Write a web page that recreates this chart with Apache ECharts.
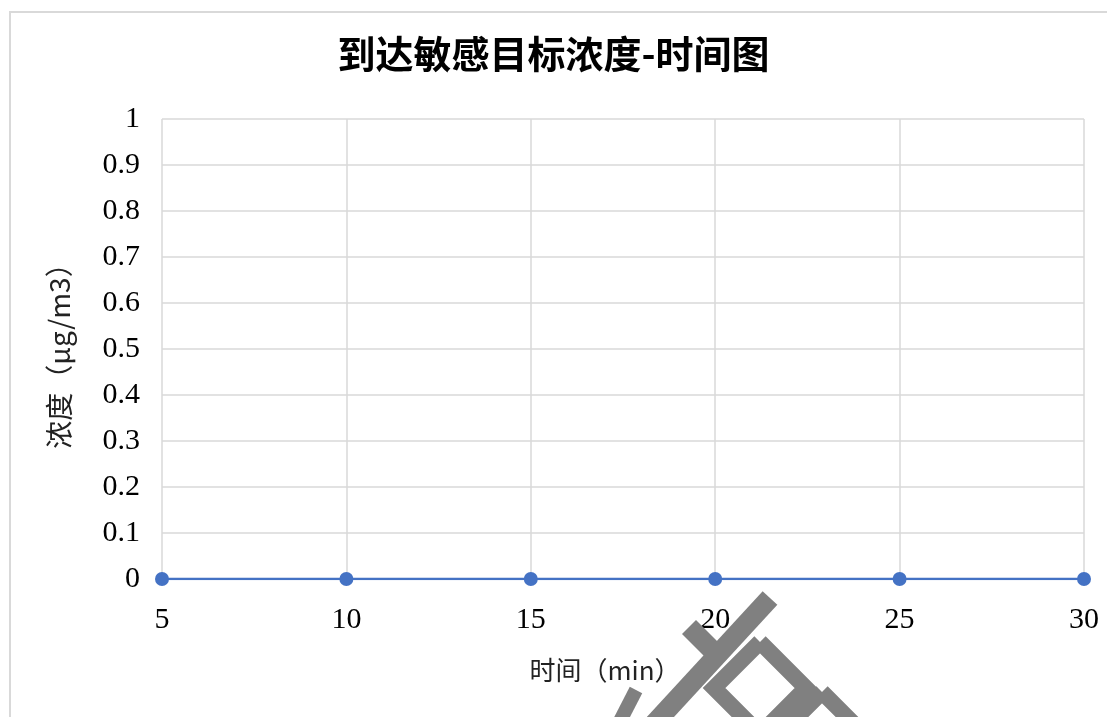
<!DOCTYPE html>
<html>
<head>
<meta charset="utf-8">
<script src="https://cdn.jsdelivr.net/npm/echarts@6/dist/echarts.min.js"></script>
<style>
  html, body { margin: 0; padding: 0; background: #fff; }
  #main { width: 1107px; height: 717px; }
</style>
</head>
<body>
<div id="main"></div>
<script>
// 数据
const times = [5, 10, 15, 20, 25, 30];
const concentration = [0, 0, 0, 0, 0, 0];
const yTicks = [0, 0.1, 0.2, 0.3, 0.4, 0.5, 0.6, 0.7, 0.8, 0.9, 1];

const titleText = '到达敏感目标浓度-时间图';
const xName = '时间（min）';
const yName = '浓度（μg/m3）';

const chart = echarts.init(document.getElementById('main'));

const serif = '"Liberation Serif", "DejaVu Serif", serif';
const cjk = '"Noto Sans CJK SC", "Noto Sans", sans-serif';
const wmColor = '#808080';

// 水印 菱形
function diamond(cx, cy, r) {
    return [[cx, cy - r], [cx + r, cy], [cx, cy + r], [cx - r, cy], [cx, cy - r]];
}

chart.setOption({
    animation: false,
    title: {
        text: titleText,
        left: 'center',
        top: 30,
        textStyle: { fontFamily: cjk, fontSize: 38, fontWeight: 'bold', color: '#000' }
    },
    grid: { left: 162, right: 23, top: 119, bottom: 138 },
    xAxis: {
        type: 'value',
        min: 5,
        max: 30,
        interval: 5,
        name: xName,
        nameLocation: 'middle',
        nameGap: 78,
        nameTextStyle: { fontFamily: cjk, fontSize: 26, color: '#222', padding: [0, 36, 0, 0] },
        axisLine: { show: false },
        axisTick: { show: false },
        axisLabel: { fontFamily: serif, fontSize: 30, color: '#000', margin: 26 },
        splitLine: { show: true, lineStyle: { color: '#d9d9d9', width: 1.5 } }
    },
    yAxis: {
        type: 'value',
        min: 0,
        max: 1,
        interval: 0.1,
        name: yName,
        nameLocation: 'middle',
        nameGap: 89,
        nameTextStyle: { fontFamily: cjk, fontSize: 28, color: '#222' },
        axisLine: { show: false },
        axisTick: { show: false },
        axisLabel: {
            fontFamily: serif, fontSize: 30, color: '#000', margin: 22,
            formatter: v => String(yTicks.find(t => Math.abs(t - v) < 1e-9) ?? v)
        },
        splitLine: { show: true, lineStyle: { color: '#d9d9d9', width: 1.5 } }
    },
    series: [{
        type: 'line',
        data: times.map((t, i) => [t, concentration[i]]),
        symbol: 'circle',
        symbolSize: 14,
        itemStyle: { color: '#4472C4' },
        lineStyle: { color: '#4472C4', width: 2.5 },
        z: 5
    }],
    graphic: [
        {
            type: 'rect', z: -1, silent: true,
            shape: { x: 10, y: 12, width: 1200, height: 800 },
            style: { fill: 'none', stroke: '#d9d9d9', lineWidth: 2 }
        },
        {
            type: 'polyline', z: 10, silent: true,
            shape: { points: [[770, 598], [630, 750]] },
            style: { stroke: wmColor, lineWidth: 20, fill: 'none' }
        },
        {
            type: 'polygon', z: 10, silent: true,
            shape: { points: [[682, 634], [696, 620], [726, 650], [712, 664]] },
            style: { fill: wmColor }
        },
        {
            type: 'polyline', z: 10, silent: true,
            shape: { points: [[636, 690], [618, 725]] },
            style: { stroke: wmColor, lineWidth: 14, fill: 'none' }
        },
        {
            type: 'polyline', z: 10, silent: true,
            shape: { points: diamond(760, 688, 46) },
            style: { stroke: wmColor, lineWidth: 16, fill: 'none', lineJoin: 'miter' }
        },
        {
            type: 'polyline', z: 10, silent: true,
            shape: { points: diamond(822, 750, 58) },
            style: { stroke: wmColor, lineWidth: 16, fill: 'none', lineJoin: 'miter' }
        },
        {
            type: 'polyline', z: 10, silent: true,
            shape: { points: diamond(818, 750, 28) },
            style: { stroke: wmColor, lineWidth: 12, fill: 'none', lineJoin: 'miter' }
        }
    ]
});
</script>
</body>
</html>
